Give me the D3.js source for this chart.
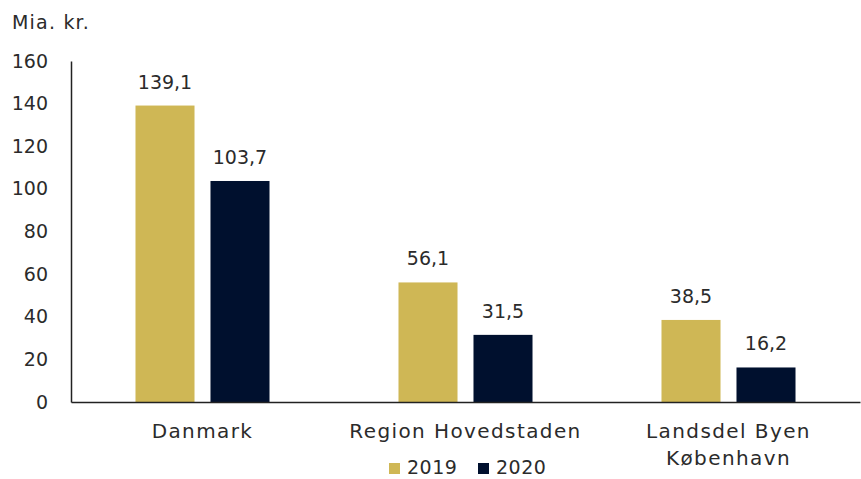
<!DOCTYPE html>
<html>
<head>
<meta charset="utf-8">
<script src="https://cdn.jsdelivr.net/npm/d3@7"></script>
<style>
  body { margin: 0; background: #fff; }
  svg text { font-family: "DejaVu Sans", sans-serif; fill: #2b2b2b; }
</style>
</head>
<body>
<svg id="chart" width="861" height="479"></svg>
<script>
// Data
const categories = ["Danmark", "Region Hovedstaden", "Landsdel Byen København"];
const categoryLines = [["Danmark"], ["Region Hovedstaden"], ["Landsdel Byen", "København"]];
const seriesNames = ["2019", "2020"];
const values2019 = [139.1, 56.1, 38.5];
const values2020 = [103.7, 31.5, 16.2];
const yTicks = [0, 20, 40, 60, 80, 100, 120, 140, 160];
const colors = ["#cfb755", "#00102e"];

const seriesValues = [values2019, values2020];
const tableData = categories.map((c, i) => ({
    category: c,
    values: seriesNames.map((s, j) => ({ key: s, value: seriesValues[j][i] }))
}));

// Layout
const margin = { top: 61, right: 1, bottom: 77, left: 71 };
const width = 861 - margin.left - margin.right;
const height = 479 - margin.top - margin.bottom;

const svg = d3.select("#chart")
    .append("g")
    .attr("transform", `translate(${margin.left}, ${margin.top})`);

// Scales
const x0 = d3.scaleBand().domain(categories).range([0, width]).padding(0);
const x1 = d3.scaleBand().domain(seriesNames).range([0, x0.bandwidth()])
    .paddingInner(0.213).paddingOuter(0.86);
const y = d3.scaleLinear().domain([0, 160]).range([height, 0]);

const fmt = v => d3.format(".1f")(v).replace(".", ",");

// Y axis
const yAxis = svg.append("g")
    .call(d3.axisLeft(y).tickValues(yTicks).tickSize(0).tickPadding(23));
yAxis.select(".domain").attr("stroke", "#222").attr("stroke-width", 1.5);
yAxis.selectAll("text").style("font-size", "19px").attr("fill", "#2b2b2b");

// Unit label
svg.append("text")
    .attr("x", -59)
    .attr("y", -32)
    .style("font-size", "19px")
    .style("letter-spacing", "1.2px")
    .text("Mia. kr.");

// Bars
const groups = svg.selectAll(".group")
    .data(tableData)
    .enter().append("g")
    .attr("class", "group")
    .attr("transform", d => `translate(${x0(d.category)}, 0)`);

groups.selectAll("rect")
    .data(d => d.values)
    .enter().append("rect")
    .attr("x", d => x1(d.key))
    .attr("y", d => y(d.value))
    .attr("width", x1.bandwidth())
    .attr("height", d => height - y(d.value))
    .attr("fill", (d, i) => colors[i]);

groups.selectAll(".val")
    .data(d => d.values)
    .enter().append("text")
    .attr("class", "val")
    .attr("x", d => x1(d.key) + x1.bandwidth() / 2)
    .attr("y", d => y(d.value) - 17)
    .attr("text-anchor", "middle")
    .style("font-size", "19px")
    .text(d => fmt(d.value));

// X axis
const xAxis = svg.append("g")
    .attr("transform", `translate(0, ${height})`)
    .call(d3.axisBottom(x0).tickSize(0).tickFormat(""));
xAxis.select(".domain").attr("stroke", "#222").attr("stroke-width", 1.5);

// Category labels
svg.selectAll(".cat")
    .data(categories)
    .enter().append("text")
    .attr("class", "cat")
    .attr("text-anchor", "middle")
    .attr("x", d => x0(d) + x0.bandwidth() / 2)
    .attr("y", height + 36)
    .style("font-size", "20px")
    .style("letter-spacing", "1.4px")
    .each(function (d, i) {
        categoryLines[i].forEach((line, k) => {
            d3.select(this).append("tspan")
                .attr("x", x0(d) + x0.bandwidth() / 2)
                .attr("dy", k === 0 ? 0 : 27)
                .text(line);
        });
    });

// Legend
const legend = svg.append("g")
    .attr("transform", `translate(${389 - margin.left}, ${474 - margin.top})`);
const legendItems = legend.selectAll(".legend-item")
    .data(seriesNames)
    .enter().append("g")
    .attr("class", "legend-item")
    .attr("transform", (d, i) => `translate(${i * 89}, 0)`);
legendItems.append("rect")
    .attr("y", -11)
    .attr("width", 11)
    .attr("height", 11)
    .attr("fill", (d, i) => colors[i]);
legendItems.append("text")
    .attr("x", 18)
    .attr("y", 0)
    .style("font-size", "19px")
    .style("letter-spacing", "0.5px")
    .text(d => d);
</script>
</body>
</html>
